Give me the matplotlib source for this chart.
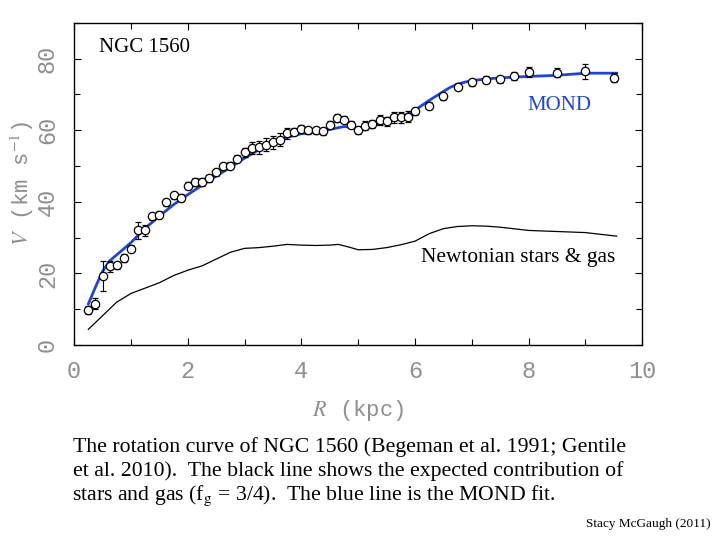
import matplotlib
matplotlib.use("Agg")
import matplotlib.pyplot as plt
from matplotlib.ticker import MultipleLocator

plt.rcParams["mathtext.fontset"] = "stix"

# observed rotation curve (kpc, km/s)
r_obs = [0.25, 0.375, 0.5, 0.625, 0.75, 0.875, 1.0, 1.125, 1.25, 1.375, 1.5, 1.625,
         1.75, 1.875, 2.0, 2.125, 2.25, 2.375, 2.5, 2.625, 2.75, 2.875, 3.0, 3.125,
         3.25, 3.375, 3.5, 3.625, 3.75, 3.875, 4.0, 4.125, 4.25, 4.375, 4.5, 4.625,
         4.75, 4.875, 5.0, 5.125, 5.25, 5.375, 5.5, 5.625, 5.75, 5.875, 6.0,
         6.25, 6.5, 6.75, 7.0, 7.25, 7.5, 7.75, 8.0, 8.5, 9.0, 9.5]
v_obs = [9.8, 11.6, 19.2, 22.0, 22.3, 24.3, 26.9, 32.0, 32.0, 35.9, 36.4, 39.9,
         41.8, 41.1, 44.5, 45.5, 45.5, 46.6, 48.2, 49.9, 50.1, 52.0, 53.8, 55.0,
         55.2, 55.9, 56.6, 57.3, 59.1, 59.6, 60.4, 59.9, 59.9, 59.7, 61.5, 63.4,
         62.9, 61.5, 59.9, 61.2, 61.7, 62.7, 62.5, 63.6, 63.6, 63.8, 65.3,
         66.8, 69.5, 72.1, 73.3, 74.1, 74.2, 75.1, 76.1, 76.0, 76.4, 74.6]
v_err = [1.0, 1.4, 4.2, 1.5, 1.0, 1.0, 1.0, 2.4, 1.6, 1.0, 1.0, 1.0,
         1.0, 1.0, 1.0, 1.0, 1.0, 1.0, 1.0, 1.0, 1.0, 1.0, 1.2, 1.8,
         1.8, 1.8, 1.8, 1.8, 1.5, 1.0, 1.0, 1.0, 1.0, 1.0, 1.0, 1.0,
         1.0, 1.0, 1.0, 1.3, 1.2, 1.4, 1.3, 1.5, 1.5, 1.5, 1.0,
         1.0, 1.0, 1.0, 1.0, 1.0, 1.0, 1.0, 1.4, 1.3, 2.2, 1.3]

# MOND fit
r_mond = [0.25, 0.375, 0.5, 0.625, 0.75, 1.0, 1.25, 1.5, 1.75, 2.0, 2.25, 2.5, 2.75,
          3.0, 3.25, 3.5, 3.75, 4.0, 4.25, 4.5, 4.75, 5.0, 5.25, 5.5, 5.75, 6.0,
          6.25, 6.5, 6.625, 6.75, 6.875, 7.0, 7.25, 7.5, 8.0, 8.5, 9.0, 9.55]
v_mond = [11.5, 16.2, 20.6, 23.5, 25.2, 28.6, 32.6, 36.0, 39.2, 42.0, 44.6, 47.2, 49.6,
          52.2, 54.5, 56.5, 58.0, 59.0, 59.4, 60.2, 61.0, 60.6, 61.2, 62.2, 63.6, 65.6,
          68.3, 70.8, 72.0, 72.8, 73.4, 73.8, 74.3, 74.6, 75.0, 75.3, 75.9, 75.9]

# Newtonian stars & gas
r_newt = [0.25, 0.5, 0.75, 1.0, 1.25, 1.5, 1.75, 2.0, 2.25, 2.5, 2.75, 3.0, 3.25,
          3.5, 3.75, 4.0, 4.25, 4.5, 4.65, 4.85, 5.0, 5.25, 5.5, 5.75, 6.0, 6.25, 6.5,
          6.75, 7.0, 7.25, 7.5, 8.0, 8.5, 9.0, 9.55]
v_newt = [4.4, 8.2, 12.0, 14.4, 15.9, 17.4, 19.4, 20.9, 22.1, 24.0, 25.9, 27.0, 27.2,
          27.6, 28.1, 27.9, 27.8, 27.9, 28.1, 27.3, 26.6, 26.7, 27.2, 28.0, 29.0, 31.1, 32.5,
          33.1, 33.3, 33.2, 32.9, 32.0, 31.7, 31.4, 30.4]

blue = "#1f45d8"
grey = "#8f8f8f"
mono = "Liberation Mono"
serif = "Liberation Serif"

fig = plt.figure(figsize=(7.2, 5.4), dpi=100)
ax = fig.add_axes([0.103, 0.361, 0.789, 0.597])

ax.plot(r_newt, v_newt, color="black", lw=0.9)
ax.plot(r_mond, v_mond, color=blue, lw=2.0)
ax.errorbar(r_obs, v_obs, yerr=v_err, fmt="o", ms=6, mfc="white", mec="black",
            mew=0.9, ecolor="black", elinewidth=0.8, capsize=2.5, capthick=0.8)

ax.set_xlim(0, 10)
ax.set_ylim(0, 90)
ax.xaxis.set_major_locator(MultipleLocator(2))
ax.xaxis.set_minor_locator(MultipleLocator(1))
ax.yaxis.set_major_locator(MultipleLocator(20))
ax.yaxis.set_minor_locator(MultipleLocator(10))
ax.tick_params(which="both", direction="in", top=True, right=True, width=0.8,
               labelsize=17, labelcolor=grey, pad=11)
ax.tick_params(which="major", length=5)
ax.tick_params(which="minor", length=4)
for lab in ax.get_xticklabels() + ax.get_yticklabels():
    lab.set_family(mono)
for lab in ax.get_yticklabels():
    lab.set_rotation(90)
    lab.set_va("center")
for s in ax.spines.values():
    s.set_linewidth(1.0)

ax.set_xlabel("$R$ (kpc)", family=mono, fontsize=16, color=grey)
ax.set_ylabel("$V$ (km s$^{-1}$)", family=mono, fontsize=16, color=grey)
ax.xaxis.set_label_coords(0.5, -0.163)
ax.yaxis.set_label_coords(-0.068, 0.5)

ax.text(0.43, 81.9, "NGC 1560", family=serif, fontsize=15, va="baseline")
ax.text(7.97, 65.5, "MOND", family=serif, fontsize=15, color=blue, va="baseline")
ax.text(6.11, 23.2, "Newtonian stars & gas", family=serif, fontsize=15.4, va="baseline")

caption = ["The rotation curve of NGC 1560 (Begeman et al. 1991; Gentile",
           "et al. 2010).  The black line shows the expected contribution of",
           "stars and gas (f$_\\mathrm{g}$ = 3/4).  The blue line is the MOND fit."]
caption_x = [0.102, 0.102, 0.1005]
for i, line in enumerate(caption):
    fig.text(caption_x[i], 0.163 - i * 0.0445, line, family=serif, fontsize=15.7,
             va="baseline")
fig.text(0.987, 0.024, "Stacy McGaugh (2011)", family=serif, fontsize=9.5,
         ha="right", va="baseline")

fig.savefig("out.png", dpi=100)
